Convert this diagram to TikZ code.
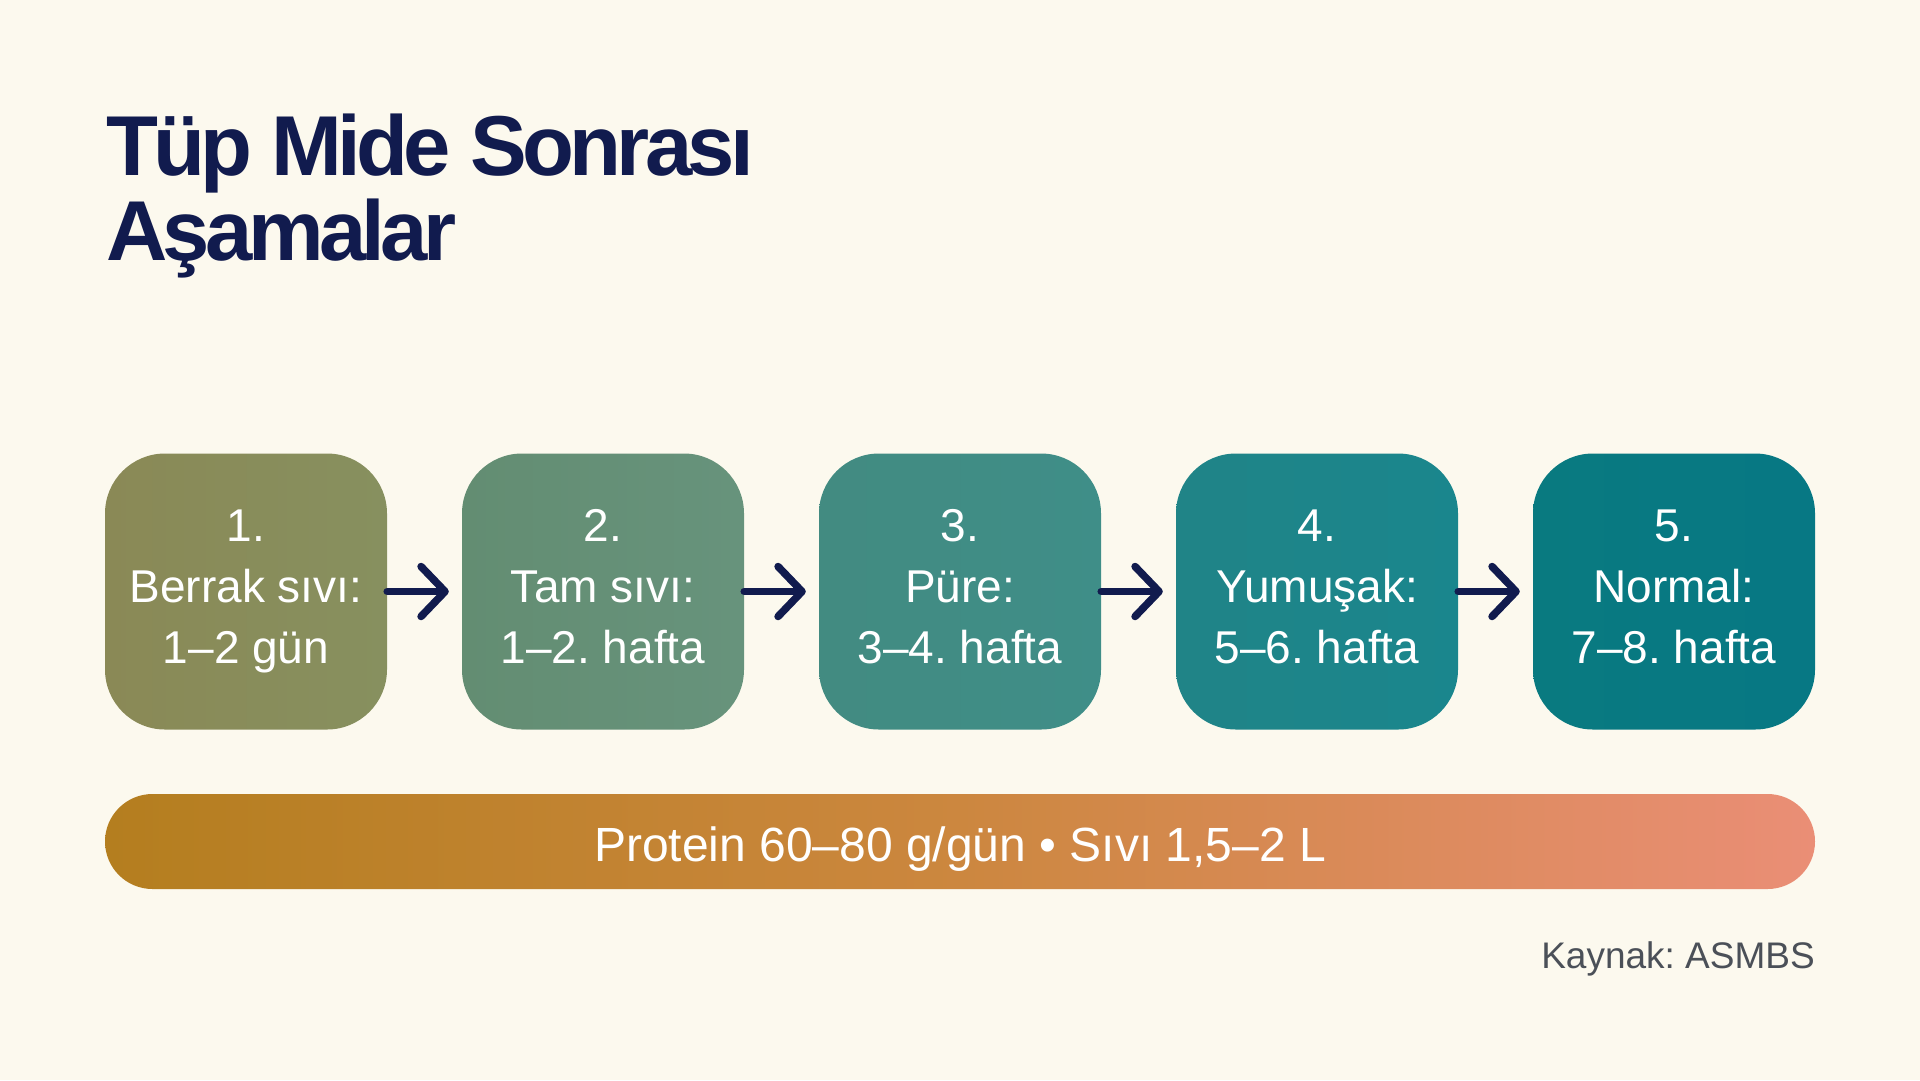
\documentclass[tikz,border=0pt]{standalone}
\usepackage{fontspec}
\setmainfont{Liberation Sans}
\newfontfamily\titlefont[LetterSpace=-5.5]{Liberation Sans}
\usetikzlibrary{arrows.meta}
\frenchspacing
\definecolor{bgc}{HTML}{FCF9EE}
\definecolor{navy}{HTML}{111B4E}
\definecolor{grayt}{HTML}{4B5058}
\definecolor{c1l}{HTML}{8A8956}\definecolor{c1r}{HTML}{87905F}
\definecolor{c2l}{HTML}{638D72}\definecolor{c2r}{HTML}{67937C}
\definecolor{c3l}{HTML}{428B81}\definecolor{c3r}{HTML}{3F8E88}
\definecolor{c4l}{HTML}{208487}\definecolor{c4r}{HTML}{1A868D}
\definecolor{c5l}{HTML}{097A80}\definecolor{c5r}{HTML}{077884}
\definecolor{barl}{HTML}{B47E1F}\definecolor{barm}{HTML}{CC873F}\definecolor{barr}{HTML}{EA8E76}
\tikzset{
  stage/.style={rectangle, rounded corners=60pt, minimum width=282pt, minimum height=276pt,
    inner sep=0pt, text=white, align=center, font={\fontsize{46}{61}\selectfont}},
  arr/.style={draw=navy, line width=7.5pt, line cap=round,
    -{Straight Barb[length=24pt,width=50pt,line cap=round,line join=round]}, shorten >=13pt},
  titletext/.style={anchor=base west, text=navy, inner sep=0pt, font={\titlefont\bfseries\fontsize{85}{85}\selectfont}}
}
\begin{document}
\begin{tikzpicture}[x=1pt,y=-1pt]
\fill[bgc] (0,0) rectangle (1920,1080);
\useasboundingbox (0,0) rectangle (1920,1080);
\node[titletext] (t1) at (106,175) {Tüp Mide Sonrası};
\node[titletext] (t2) at (106,260) {Aşamalar};
\node[stage, left color=c1l, right color=c1r] (b1) at (246,591.5) {1.\\Berrak sıvı:\\1–2 gün};
\node[stage, left color=c2l, right color=c2r] (b2) at (603,591.5) {2.\\Tam sıvı:\\1–2. hafta\vphantom{g}};
\node[stage, left color=c3l, right color=c3r] (b3) at (960,591.5) {3.\\Püre:\\3–4. hafta\vphantom{g}};
\node[stage, left color=c4l, right color=c4r] (b4) at (1317,591.5) {4.\\Yumuşak:\\5–6. hafta\vphantom{g}};
\node[stage, left color=c5l, right color=c5r] (b5) at (1674,591.5) {5.\\Normal:\\7–8. hafta\vphantom{g}};
\draw[arr] (b1) -- (b2);
\draw[arr] (b2) -- (b3);
\draw[arr] (b3) -- (b4);
\draw[arr] (b4) -- (b5);
\shade[left color=barl, right color=barr, middle color=barm, rounded corners=47.5pt] (105,794) rectangle (1815,889);
\node[anchor=base, text=white, inner sep=0pt, font={\fontsize{48}{48}\selectfont}] (bar) at (960,861) {Protein 60–80 g/gün • Sıvı 1,5–2 L};
\node[anchor=base east, text=grayt, inner sep=0pt, font={\fontsize{37}{37}\selectfont}] (src) at (1815,968) {Kaynak: ASMBS};
\end{tikzpicture}
\end{document}
